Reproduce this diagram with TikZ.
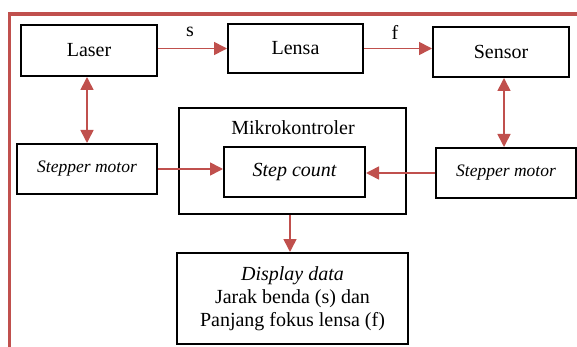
\documentclass[tikz,border=0pt]{standalone}
\usepackage{fontspec}
\setmainfont{Liberation Serif}
\usetikzlibrary{arrows.meta}
\definecolor{arrred}{RGB}{192,80,77}

\begin{document}
\begin{tikzpicture}[x=1pt,y=-1pt,
    box/.style={draw,line width=2pt,inner sep=0pt,align=center,
      font=\fontsize{20}{23}\selectfont},
    motorbox/.style={box,font=\fontsize{17.5}{20}\selectfont\itshape},
    arr/.style={draw=arrred,line width=1.6pt,-{Triangle[length=13pt,width=13pt]}},
    dblarr/.style={arr,{Triangle[length=13pt,width=13pt]}-{Triangle[length=13pt,width=13pt]}}]
    \useasboundingbox (0,0) rectangle (577,347);

    % frame round the diagram
    \draw[arrred,line width=3.5pt] (580,14) -| (9.5,350);

    % top row
    \node[box,minimum width=136pt,minimum height=51pt] (laser) at (89,50.5) {Laser};
    \node[box,minimum width=135pt,minimum height=49pt] (lensa) at (295.5,48.5) {Lensa};
    \node[box,minimum width=136pt,minimum height=50pt] (sensor) at (501,52) {Sensor};

    % middle row
    \node[motorbox,minimum width=140pt,minimum height=50pt] (stepL) at (87,169) {Stepper motor};
    \node[box,minimum width=227pt,minimum height=106pt] (mikro) at (292.5,161) {};
    \node[anchor=base,font=\fontsize{20}{23}\selectfont] (mikrolabel) at (293,135) {Mikrokontroler};
    \node[box,font=\fontsize{20}{23}\selectfont\itshape,minimum width=141pt,minimum height=50pt] (stepcount) at (294.5,172) {Step count};
    \node[motorbox,minimum width=140pt,minimum height=50pt] (stepR) at (506,173) {Stepper motor};

    % bottom box
    \node[box,minimum width=231pt,minimum height=91pt] (display) at (292.5,298.5)
      {\textit{Display data}\\Jarak benda (s) dan\\Panjang fokus lensa (f)};

    % connectors
    \draw[arr] (lensa.west -| laser.east) -- (lensa.west);
    \draw[arr] (lensa.east) -- (lensa.east -| sensor.west);
    \node[anchor=base,font=\fontsize{20}{23}\selectfont] (slabel) at (190,37) {s};
    \node[anchor=base,font=\fontsize{20}{23}\selectfont] (flabel) at (395,40) {f};

    \draw[dblarr] (laser.south -| stepL.north) -- (stepL.north);
    \draw[dblarr] ([xshift=3pt]sensor.south) -- ([xshift=3pt]sensor.south |- stepR.north);

    \draw[arr] (stepL.east) -- (stepL.east -| stepcount.west);
    \draw[arr] (stepR.west) -- (stepR.west -| stepcount.east);
    \draw[arr] ([xshift=-2.5pt]mikro.south) -- ([xshift=-2.5pt]display.north);
\end{tikzpicture}
\end{document}
